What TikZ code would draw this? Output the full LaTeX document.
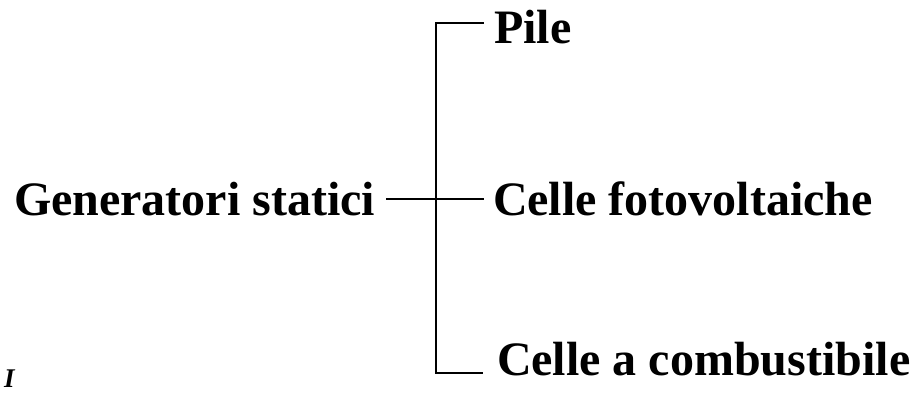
\documentclass[tikz,border=0pt]{standalone}
\usepackage{fontspec}
\setmainfont{Liberation Serif}
\begin{document}
\begin{tikzpicture}[x=1pt,y=-1pt,
  lbl/.style={inner sep=0pt,outer sep=0pt,anchor=base west,font=\fontsize{48}{57}\selectfont\bfseries},
  conn/.style={line width=2pt,line cap=rect}]
\useasboundingbox (0,0) rectangle (912,394);
\node[lbl] (gen) at (14,215) {Generatori statici};
\node[lbl] (pile) at (494,43) {Pile};
\node[lbl] (cf) at (493,215) {Celle fotovoltaiche};
\node[lbl] (cc) at (497,375) {Celle a combustibile};
\node[inner sep=0pt,anchor=base west,font=\fontsize{27}{32}\selectfont\bfseries\itshape] (num) at (4,387) {I};
\coordinate (top) at (436,23);
\coordinate (mid) at (436,199);
\coordinate (bot) at (436,373);
\draw[conn] ([xshift=12pt]gen.east |- mid) -- ([xshift=-10pt]cf.west |- mid);
\draw[conn] ([xshift=-11pt]pile.west |- top) -- (top) -- (bot) -- ([xshift=-15pt]cc.west |- bot);
\end{tikzpicture}
\end{document}
